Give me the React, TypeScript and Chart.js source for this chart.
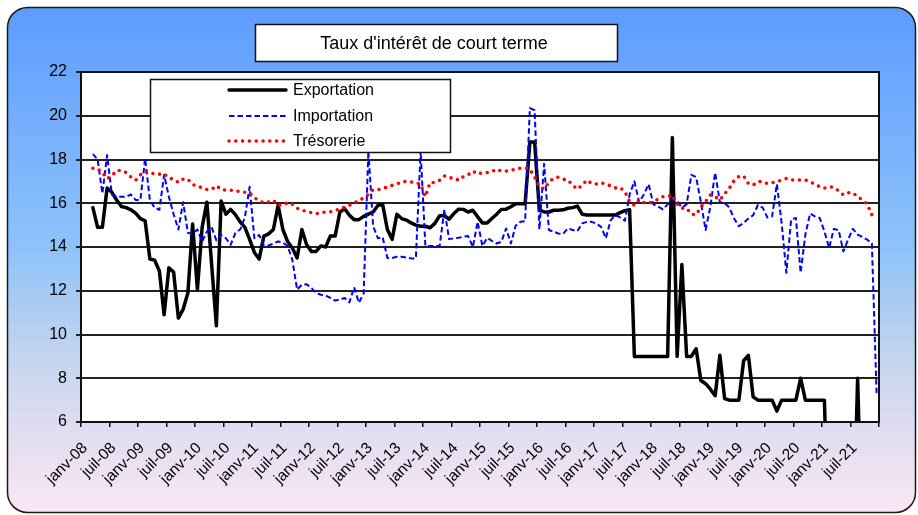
import React, { useEffect, useRef } from 'react';
import { Chart, registerables } from 'chart.js';

Chart.register(...registerables);

// Month index 0 = janv-08 ; the series start in mars-08 (index 2)
const FIRST_MONTH = 2;
const TOTAL_MONTHS = 168;

const tickLabels = [
  'janv-08', 'juil-08', 'janv-09', 'juil-09', 'janv-10', 'juil-10', 'janv-11', 'juil-11',
  'janv-12', 'juil-12', 'janv-13', 'juil-13', 'janv-14', 'juil-14', 'janv-15', 'juil-15',
  'janv-16', 'juil-16', 'janv-17', 'juil-17', 'janv-18', 'juil-18', 'janv-19', 'juil-19',
  'janv-20', 'juil-20', 'janv-21', 'juil-21',
];

const seriesNames = ['Exportation', 'Importation', 'Trésorerie'];

const exportation = [
  15.8, 14.9, 14.9, 16.7, 16.5, 16.15, 15.85, 15.8, 15.7, 15.55,
  15.3, 15.2, 13.45, 13.4, 12.9, 10.9, 13.05, 12.85, 10.75, 11.15, 11.9, 15.05,
  12.05, 14.9, 16.05, 13.2, 10.4, 16.1, 15.5, 15.72, 15.48, 15.15, 14.9, 14.35,
  13.75, 13.45, 14.5, 14.6, 14.8, 15.9, 14.8, 14.25, 13.95, 13.5, 14.8, 14.1,
  13.8, 13.8, 14.05, 14.0, 14.5, 14.5, 15.6, 15.75, 15.45, 15.25, 15.25, 15.4,
  15.5, 15.6, 15.9, 15.95, 14.8, 14.35, 15.5, 15.3, 15.23, 15.1, 15.0, 14.95,
  14.95, 14.88, 15.08, 15.43, 15.43, 15.27, 15.53, 15.73, 15.72, 15.6, 15.68, 15.38,
  15.1, 15.1, 15.3, 15.5, 15.72, 15.73, 15.84, 15.98, 15.98, 15.98, 18.8, 18.8,
  15.7, 15.6, 15.6, 15.68, 15.68, 15.7, 15.77, 15.8, 15.87, 15.5, 15.46, 15.46,
  15.46, 15.46, 15.46, 15.46, 15.46, 15.57, 15.66, 15.7, 9.0, 9.0, 9.0, 9.0,
  9.0, 9.0, 9.0, 9.0, 19.0, 9.0, 13.2, 9.0, 9.0, 9.35, 7.9, 7.75,
  7.5, 7.2, 9.05, 7.07, 7.0, 7.0, 7.0, 8.8, 9.05, 7.15, 7.0, 7.0,
  7.0, 7.0, 6.5, 7.0, 7.0, 7.0, 7.0, 8.0, 7.0, 7.0, 7.0, 7.0,
  7.0, 0, 0, 0, 0, 0, 0, 8.0, 0, 0, 0, 0,
];

const importation = [
  18.25, 18.0, 16.45, 18.2, 16.4, 16.3, 16.3, 16.3, 16.4, 16.15,
  16.15, 18.05, 16.15, 15.8, 15.7, 17.3, 16.3, 15.5, 14.8, 16.05, 14.65, 14.6,
  14.8, 14.25, 14.7, 14.9, 14.3, 14.55, 14.4, 14.1, 14.65, 14.8, 15.35, 16.75,
  14.4, 14.55, 14.07, 14.07, 14.16, 14.25, 14.2, 14.05, 13.4, 12.05, 12.28, 12.3,
  12.13, 11.9, 11.82, 11.78, 11.67, 11.55, 11.6, 11.67, 11.47, 12.16, 11.45, 11.87,
  18.4, 14.95, 14.4, 14.45, 13.5, 13.5, 13.55, 13.55, 13.52, 13.48, 13.48, 18.4,
  14.05, 14.05, 14.05, 14.05, 15.7, 14.36, 14.4, 14.42, 14.47, 14.5, 14.0, 15.15,
  14.05, 14.42, 14.28, 14.16, 14.24, 14.85, 14.16, 14.97, 15.15, 15.18, 20.35, 20.25,
  14.8, 17.8, 14.78, 14.7, 14.62, 14.6, 14.85, 14.78, 14.72, 15.08, 15.15, 15.15,
  15.07, 14.92, 14.4, 15.22, 15.46, 15.35, 15.2, 16.4, 17.0, 16.05, 16.4, 16.87,
  15.95, 15.85, 15.72, 15.95, 16.2, 16.1, 15.8, 15.95, 17.3, 17.2, 16.05, 14.78,
  15.85, 17.4, 16.05, 16.0, 15.8, 15.3, 14.95, 15.1, 15.3, 15.45, 15.92, 15.8,
  15.35, 15.4, 16.88, 15.1, 12.82, 15.26, 15.33, 12.82, 14.57, 15.53, 15.4, 15.33,
  14.72, 13.96, 14.83, 14.77, 13.8, 14.34, 14.83, 14.57, 14.46, 14.34, 14.16, 7.25,
];

const tresorerie = [
  17.6, 17.58, 17.4, 17.12, 17.25, 17.5, 17.5, 17.4, 17.2, 17.05,
  17.3, 17.45, 17.42, 17.33, 17.33, 17.35, 17.15, 17.1, 16.95, 17.1, 17.1, 16.85,
  16.8, 16.7, 16.63, 16.63, 16.8, 16.63, 16.6, 16.6, 16.55, 16.55, 16.5, 16.47,
  16.25, 16.12, 16.02, 16.06, 16.13, 15.9, 15.92, 16.03, 15.95, 15.77, 15.68, 15.63,
  15.57, 15.52, 15.56, 15.6, 15.61, 15.67, 15.73, 15.82, 15.91, 16.03, 16.09, 16.26,
  16.4, 16.62, 16.62, 16.67, 16.74, 16.82, 16.88, 16.97, 17.0, 16.98, 16.92, 16.88,
  16.3, 16.95, 16.95, 17.05, 17.25, 17.16, 17.16, 17.05, 17.22, 17.3, 17.47, 17.33,
  17.4, 17.4, 17.44, 17.56, 17.47, 17.47, 17.5, 17.56, 17.6, 17.62, 17.55, 17.2,
  16.75, 16.65, 16.95, 17.15, 17.19, 17.1, 17.06, 16.83, 16.64, 16.83, 17.06, 16.9,
  16.88, 16.94, 16.86, 16.8, 16.7, 16.72, 16.53, 16.08, 15.9, 16.15, 16.03, 16.0,
  16.08, 16.18, 16.3, 16.3, 16.38, 15.97, 15.77, 15.77, 15.5, 15.47, 15.82, 16.08,
  16.38, 16.3, 16.15, 16.43, 16.69, 17.04, 17.22, 17.25, 16.9, 16.83, 16.99, 16.99,
  16.9, 16.94, 16.99, 17.06, 17.13, 17.06, 17.06, 17.06, 17.06, 16.99, 16.86, 16.76,
  16.69, 16.76, 16.72, 16.57, 16.38, 16.48, 16.48, 16.3, 16.15, 15.97, 15.47, 15.62,
];

const titleText = "Taux d'intérêt de court terme";
const FONT = '"Liberation Sans", Arial, sans-serif';

const toPoints = (arr: number[]) => arr.map((v, i) => ({ x: FIRST_MONTH + i + 0.5, y: v }));

const styles = [
  { color: '#000000', width: 3.5, dash: [] as number[], cap: 'round' as CanvasLineCap },
  { color: '#0000FF', width: 2, dash: [5.5, 3], cap: 'butt' as CanvasLineCap },
  { color: '#FF0000', width: 3.6, dash: [0, 6.8], cap: 'round' as CanvasLineCap },
];

const decorPlugin = {
  id: 'decor',
  beforeDraw(chart: any) {
    const ctx = chart.ctx as CanvasRenderingContext2D;
    const { chartArea } = chart;
    ctx.save();
    const x = 7.5, y = 7.5, w = 908, h = 505, r = 20;
    const g = ctx.createLinearGradient(0, y, 0, y + h);
    g.addColorStop(0, '#5D9CFF');
    g.addColorStop(0.48, '#8EC3FA');
    g.addColorStop(0.58, '#A8CBF2');
    g.addColorStop(0.74, '#CDD8EE');
    g.addColorStop(0.875, '#E6DFF1');
    g.addColorStop(1, '#FAE6F4');
    ctx.beginPath();
    ctx.moveTo(x + r, y);
    ctx.lineTo(x + w - r, y);
    ctx.arcTo(x + w, y, x + w, y + r, r);
    ctx.lineTo(x + w, y + h - r);
    ctx.arcTo(x + w, y + h, x + w - r, y + h, r);
    ctx.lineTo(x + r, y + h);
    ctx.arcTo(x, y + h, x, y + h - r, r);
    ctx.lineTo(x, y + r);
    ctx.arcTo(x, y, x + r, y, r);
    ctx.closePath();
    ctx.fillStyle = g;
    ctx.fill();
    ctx.lineWidth = 1.5;
    ctx.strokeStyle = '#1a1a1a';
    ctx.stroke();
    ctx.fillStyle = '#ffffff';
    ctx.fillRect(chartArea.left, chartArea.top, chartArea.right - chartArea.left, chartArea.bottom - chartArea.top);
    ctx.restore();
  },
  afterDraw(chart: any) {
    const ctx = chart.ctx as CanvasRenderingContext2D;
    const { chartArea } = chart;
    ctx.save();
    // plot border
    ctx.lineWidth = 2;
    ctx.strokeStyle = '#111';
    ctx.strokeRect(chartArea.left, chartArea.top, chartArea.right - chartArea.left, chartArea.bottom - chartArea.top);

    // title box
    ctx.fillStyle = '#fff';
    ctx.fillRect(255, 24, 363, 38);
    ctx.lineWidth = 1.5;
    ctx.strokeStyle = '#111';
    ctx.strokeRect(255.5, 24.5, 362, 37);
    ctx.fillStyle = '#000';
    ctx.font = `18px ${FONT}`;
    ctx.textAlign = 'center';
    ctx.textBaseline = 'middle';
    ctx.fillText(titleText, 434, 44);

    // legend box
    ctx.fillStyle = '#fff';
    ctx.fillRect(150, 79, 301, 74);
    ctx.strokeRect(150.5, 79.5, 300, 73);
    const rows = [90, 116, 141];
    ctx.font = `16px ${FONT}`;
    ctx.textAlign = 'left';
    seriesNames.forEach((name, i) => {
      const s = styles[i];
      ctx.beginPath();
      ctx.setLineDash(s.dash);
      ctx.lineCap = s.cap;
      ctx.lineWidth = s.width;
      ctx.strokeStyle = s.color;
      ctx.moveTo(229, rows[i]);
      ctx.lineTo(286, rows[i]);
      ctx.stroke();
      ctx.setLineDash([]);
      ctx.fillStyle = '#000';
      ctx.fillText(name, 293, rows[i] + 1);
    });
    ctx.restore();
  },
};

export default function App() {
  const canvasRef = useRef<HTMLCanvasElement | null>(null);

  useEffect(() => {
    if (!canvasRef.current) return;
    const data = [exportation, importation, tresorerie];
    const chart = new Chart(canvasRef.current, {
      type: 'line',
      data: {
        datasets: data.map((arr, i) => ({
          label: seriesNames[i],
          data: toPoints(arr),
          borderColor: styles[i].color,
          borderWidth: styles[i].width,
          borderDash: styles[i].dash,
          borderCapStyle: styles[i].cap,
          borderJoinStyle: 'round',
          pointRadius: 0,
          tension: 0,
          fill: false,
          clip: 0,
          order: 3 - i,
        })),
      },
      options: {
        animation: false,
        responsive: false,
        devicePixelRatio: 1,
        layout: { padding: { left: 10, right: 39, top: 72, bottom: 0 } },
        plugins: { legend: { display: false }, title: { display: false }, tooltip: { enabled: false } },
        scales: {
          x: {
            type: 'linear',
            min: 0,
            max: TOTAL_MONTHS,
            afterFit: (s: any) => { s.height = 93; },
            ticks: {
              stepSize: 6,
              autoSkip: false,
              maxRotation: 45,
              minRotation: 45,
              padding: 12,
              labelOffset: 4,
              color: '#000',
              font: { family: FONT, size: 15.5 },
              callback: (_v: any, idx: number) => tickLabels[idx] ?? '',
            },
            grid: { drawOnChartArea: false, drawTicks: true, tickLength: 5, color: '#111', lineWidth: 1.5 },
            border: { display: true, color: '#111', width: 2 },
          },
          y: {
            min: 6,
            max: 22,
            afterFit: (s: any) => { s.width = 71; },
            ticks: { stepSize: 2, padding: 9, color: '#000', font: { family: FONT, size: 16 } },
            grid: { color: '#222', lineWidth: 2, drawTicks: true, tickLength: 5 },
            border: { display: true, color: '#111', width: 2 },
          },
        },
      },
      plugins: [decorPlugin],
    });
    return () => chart.destroy();
  }, []);

  return (
    <div style={{ position: 'absolute', left: 0, top: 0, width: 918, height: 515 }}>
      <canvas ref={canvasRef} width={918} height={515} style={{ display: 'block' }} />
    </div>
  );
}
